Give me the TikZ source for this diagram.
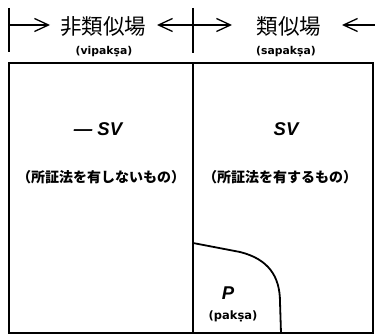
\documentclass[tikz,border=0pt]{standalone}
\usepackage{fontspec}
\usetikzlibrary{arrows.meta}
\newfontfamily\jpfont{Noto Sans CJK JP}
\newfontfamily\labfont{DejaVu Sans}
\newfontfamily\svfont{Liberation Sans}
\begin{document}
\begin{tikzpicture}[x=1pt,y=-1pt,
  frame/.style={line width=2pt},
  tick/.style={line width=1.3pt},
  arr/.style={line width=1.3pt,-{Straight Barb[length=14pt,width=13pt,line width=1.3pt]}},
  head/.style={font=\jpfont\fontsize{21.5}{22}\selectfont,inner sep=0pt},
  sub/.style={font=\labfont\bfseries\fontsize{10.8}{11}\selectfont,inner sep=0pt},
  sv/.style={font=\svfont\bfseries\itshape\fontsize{18.5}{19}\selectfont,inner sep=0pt},
  desc/.style={font=\jpfont\bfseries\fontsize{14}{15}\selectfont,inner sep=0pt}]
\useasboundingbox (0,0) rectangle (375,336);
% ticks
\coordinate (lt1) at (9,8);
\coordinate (lt2) at (9,52);
\coordinate (mt1) at (193,8);
\coordinate (mt2) at (193,53);
\draw[tick] (lt1) -- (lt2);
\draw[tick] (mt1) -- (mt2);
% arrows
\coordinate (la0) at (9,25);
\coordinate (la1) at (50,25);
\coordinate (ma0) at (193,25);
\coordinate (ma1) at (157,25);
\coordinate (ma2) at (232,25);
\coordinate (ra0) at (375,25);
\coordinate (ra1) at (342,25);
\draw[arr] (la0) -- (la1);
\draw[arr] (ma0) -- (ma1);
\draw[arr] (ma0) -- (ma2);
\draw[arr] (ra0) -- (ra1);
% header texts
\node[head] (h1) at (103,26) {非類似場};
\node[sub] (s1) at (104,52) {(vipakṣa)};
\node[head] (h2) at (289,26) {類似場};
\node[sub] (s2) at (286,52) {(sapakṣa)};
% frame
\draw[frame] (9,63) rectangle (373,333);
\coordinate (dt) at (193,63);
\coordinate (db) at (193,333);
\draw[frame] (dt) -- (db);
% paksa curve
\coordinate (c0) at (193,243);
\coordinate (c1) at (240,252);
\coordinate (c2) at (280,302);
\coordinate (c3) at (281,333);
\draw[line width=1.8pt] (c0) -- (c1) .. controls (268,259) and (280,276) .. (c2) -- (c3);
% contents
\node[sv] (nsv) at (98,129) {— SV};
\node[desc] (nd) at (101,177) {（所証法を有しないもの）};
\node[sv] (psv) at (286,129) {SV};
\node[desc] (pd) at (280,177) {（所証法を有するもの）};
\node[sv] (p) at (228,293) {P};
\node[sub,font=\labfont\bfseries\fontsize{11.5}{12}\selectfont] (ps) at (233,316) {(pakṣa)};
\end{tikzpicture}
\end{document}
